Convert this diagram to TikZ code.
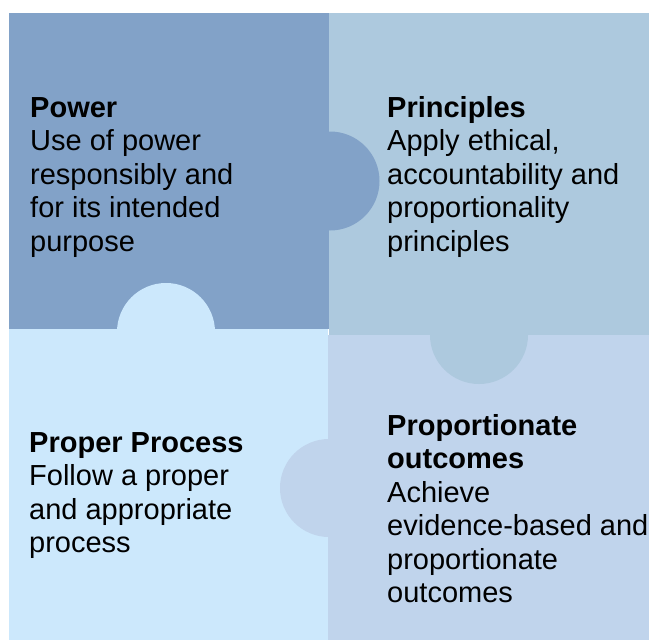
\documentclass[tikz,border=0pt]{standalone}
\usepackage{fontspec}
\setmainfont{Liberation Sans}
\definecolor{cTL}{RGB}{130,162,200}
\definecolor{cTR}{RGB}{173,201,222}
\definecolor{cBL}{RGB}{204,232,252}
\definecolor{cBR}{RGB}{192,212,236}
\begin{document}
\begin{tikzpicture}[x=1pt,y=-1pt,
  txt/.style={anchor=base west,inner sep=0pt,align=left,font=\fontsize{29}{33.5}\selectfont}]
\useasboundingbox (0,0) rectangle (649,640);
% pieces
\fill[cTL] (9,13) rectangle (329,329);
\fill[cTR] (329,13) rectangle (649,335);
\fill[cBL] (9,329) rectangle (328,640);
\fill[cBR] (328,335) rectangle (649,640);
% tabs
\fill[cTL] (330,181) circle[radius=49.5];
\fill[cTR] (479,335) circle[radius=49];
\fill[cBL] (166,332) circle[radius=49];
\fill[cBR] (329,488) circle[radius=49];
% texts (anchored at the baseline of the last line)
\node[txt] (power) at (30,251) {\textbf{Power}\\Use of power\\responsibly and\\for its intended\\purpose};
\node[txt] (principles) at (387,251) {\textbf{Principles}\\Apply ethical,\\accountability and\\proportionality\\principles};
\node[txt] (process) at (29,552.5) {\textbf{Proper Process}\\Follow a proper\\and appropriate\\process};
\node[txt] (outcomes) at (387,602.5) {\textbf{Proportionate}\\\textbf{outcomes}\\Achieve\\evidence-based and\\proportionate\\outcomes};
\end{tikzpicture}
\end{document}
